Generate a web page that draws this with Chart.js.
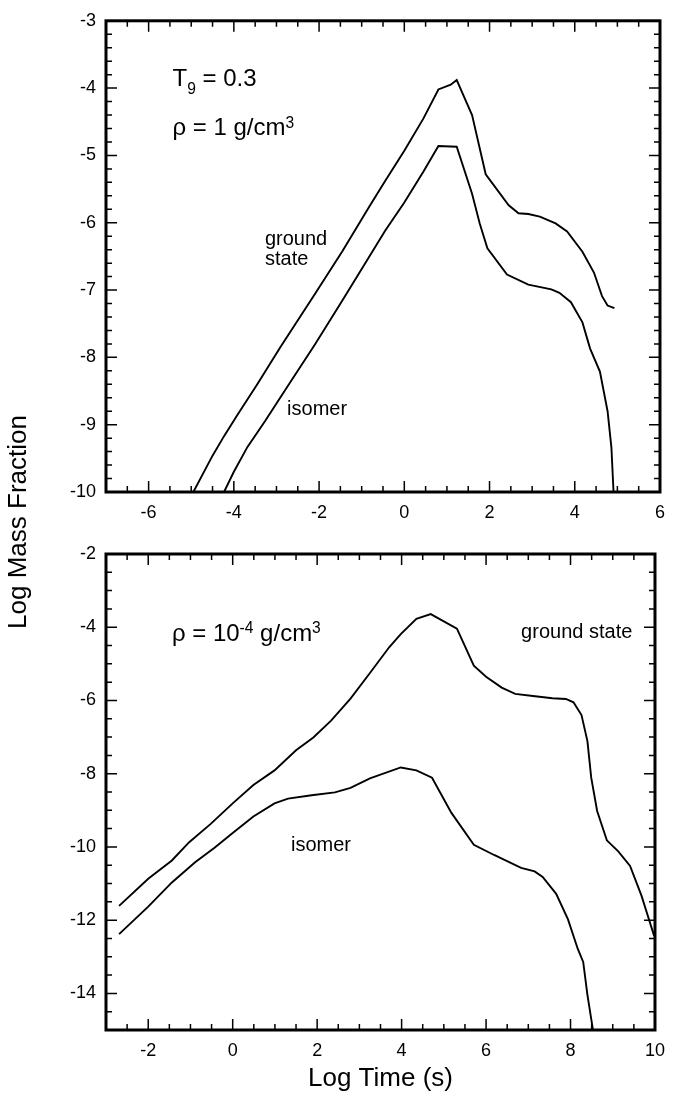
<!DOCTYPE html>
<html>
<head>
<meta charset="utf-8">
<script src="https://cdn.jsdelivr.net/npm/chart.js@4.4.0/dist/chart.umd.min.js"></script>
<style>
  body { margin: 0; background: #fff; }
  #page { position: relative; width: 675px; height: 1095px; }
  canvas { position: absolute; left: 0; }
  #ylabel {
    position: absolute; left: -133px; top: 506px; width: 300px; text-align: center;
    font: 26px 'Liberation Sans', Arial, Helvetica, sans-serif; line-height: 32px;
    transform: rotate(-90deg); color: #000;
  }
</style>
</head>
<body>
<div id="page">
  <canvas id="topChart" width="675" height="530" style="top:0"></canvas>
  <canvas id="bottomChart" width="675" height="565" style="top:530px"></canvas>
  <div id="ylabel">Log Mass Fraction</div>
</div>
<script>
const FONT = "'Liberation Sans', Arial, Helvetica, sans-serif";

// top panel: T9 = 0.3, rho = 1 g/cm3
const topGroundX = [-4.95, -4.5, -4.23, -3.91, -3.45, -2.91, -2.09, -1.45, -0.82, -0.45, 0, 0.45, 0.8, 1.09, 1.23, 1.59, 1.91, 2.45, 2.68, 2.91, 3.18, 3.55, 3.82, 4.18, 4.45, 4.64, 4.77, 4.93];
const topGroundY = [-10, -9.46, -9.17, -8.85, -8.40, -7.85, -7.05, -6.42, -5.76, -5.38, -4.93, -4.45, -4.02, -3.95, -3.88, -4.40, -5.28, -5.74, -5.86, -5.87, -5.91, -6.01, -6.13, -6.43, -6.74, -7.09, -7.23, -7.27];
const topIsomerX = [-4.23, -4.0, -3.68, -3.27, -2.73, -2.09, -1.45, -0.82, -0.45, 0, 0.45, 0.8, 1.23, 1.59, 1.77, 1.95, 2.41, 2.91, 3.45, 3.64, 3.91, 4.18, 4.36, 4.59, 4.77, 4.86, 4.91];
const topIsomerY = [-10, -9.70, -9.33, -8.95, -8.42, -7.80, -7.15, -6.50, -6.12, -5.70, -5.24, -4.86, -4.87, -5.57, -6.01, -6.38, -6.77, -6.92, -6.99, -7.04, -7.18, -7.48, -7.87, -8.21, -8.80, -9.34, -10];

// bottom panel: rho = 1e-4 g/cm3
const botGroundX = [-2.69, -2.0, -1.44, -1.03, -0.52, 0, 0.49, 0.99, 1.5, 1.91, 2.33, 2.79, 3.25, 3.71, 3.98, 4.35, 4.69, 5.31, 5.71, 6.0, 6.37, 6.69, 7.11, 7.57, 7.89, 8.07, 8.26, 8.40, 8.49, 8.63, 8.86, 9.13, 9.41, 9.68, 9.98];
const botGroundY = [-11.61, -10.87, -10.37, -9.87, -9.37, -8.81, -8.31, -7.91, -7.36, -7.01, -6.55, -5.95, -5.25, -4.54, -4.19, -3.77, -3.64, -4.04, -5.05, -5.35, -5.65, -5.82, -5.88, -5.94, -5.96, -6.05, -6.40, -7.11, -8.11, -9.02, -9.82, -10.12, -10.52, -11.33, -12.43];
const botIsomerX = [-2.69, -2.0, -1.44, -0.89, -0.43, 0, 0.49, 0.99, 1.31, 1.87, 2.42, 2.79, 3.25, 3.98, 4.35, 4.72, 5.18, 5.71, 6.19, 6.83, 7.15, 7.34, 7.66, 7.94, 8.17, 8.30, 8.40, 8.53];
const botIsomerY = [-12.38, -11.63, -10.97, -10.42, -10.02, -9.62, -9.17, -8.81, -8.68, -8.59, -8.51, -8.39, -8.13, -7.83, -7.91, -8.11, -9.07, -9.94, -10.22, -10.57, -10.67, -10.82, -11.28, -11.98, -12.78, -13.14, -14.04, -14.99];

// axes
const topXTicks = [-6, -4, -2, 0, 2, 4, 6];
const topYTicks = [-3, -4, -5, -6, -7, -8, -9, -10];
const botXTicks = [-2, 0, 2, 4, 6, 8, 10];
const botYTicks = [-2, -4, -6, -8, -10, -12, -14];

// text labels inside the panels [x, y, size, runs]
const topNotes = [
  [-5.44, -3.87, 24, [{t: 'T'}, {t: '9', sub: true}, {t: ' = 0.3'}]],
  [-5.44, -4.60, 24, [{t: 'ρ = 1 g/cm'}, {t: '3', sup: true}]],
  [-3.27, -6.25, 20, [{t: 'ground'}]],
  [-3.27, -6.55, 20, [{t: 'state'}]],
  [-2.75, -8.78, 20, [{t: 'isomer'}]]
];
const botNotes = [
  [-1.44, -4.19, 24, [{t: 'ρ = 10'}, {t: '-4', sup: true}, {t: ' g/cm'}, {t: '3', sup: true}]],
  [6.83, -4.14, 20, [{t: 'ground state'}]],
  [1.38, -9.97, 20, [{t: 'isomer'}]]
];

function pairs(xs, ys) {
  return xs.map((x, i) => ({x: x, y: ys[i]}));
}

function line(xs, ys) {
  return {
    data: pairs(xs, ys),
    showLine: true,
    borderColor: '#000',
    borderWidth: 1.9,
    pointRadius: 0,
    tension: 0
  };
}

// frame and inward tick marks on all four sides
const frameTicks = {
  id: 'frameTicks',
  afterDatasetsDraw(chart, args, opts) {
    const {ctx, chartArea: a, scales: {x, y}} = chart;
    ctx.save();
    ctx.strokeStyle = '#000';
    ctx.lineWidth = 1.5;
    const walk = (scale, minor, major, fn) => {
      const n = Math.round((scale.max - scale.min) / minor);
      for (let i = 1; i < n; i++) {
        const v = scale.min + i * minor;
        const r = v / major;
        const big = Math.abs(r - Math.round(r)) < 1e-6;
        fn(scale.getPixelForValue(v), big ? 11 : 6);
      }
    };
    ctx.beginPath();
    walk(x, opts.xMinor, opts.xMajor, (p, len) => {
      ctx.moveTo(p, a.bottom); ctx.lineTo(p, a.bottom - len);
      ctx.moveTo(p, a.top); ctx.lineTo(p, a.top + len);
    });
    walk(y, opts.yMinor, opts.yMajor, (p, len) => {
      ctx.moveTo(a.left, p); ctx.lineTo(a.left + len, p);
      ctx.moveTo(a.right, p); ctx.lineTo(a.right - len, p);
    });
    ctx.stroke();
    ctx.lineWidth = 3;
    ctx.strokeRect(a.left, a.top, a.right - a.left, a.bottom - a.top);

    // annotations
    ctx.fillStyle = '#000';
    ctx.textBaseline = 'middle';
    ctx.textAlign = 'left';
    (opts.notes || []).forEach(([nx, ny, size, runs]) => {
      let cx = x.getPixelForValue(nx);
      const cy = y.getPixelForValue(ny);
      runs.forEach(r => {
        const fs = (r.sub || r.sup) ? size * 0.65 : size;
        const dy = r.sub ? size * 0.42 : (r.sup ? -size * 0.22 : 0);
        ctx.font = fs + 'px ' + FONT;
        ctx.fillText(r.t, cx, cy + dy);
        cx += ctx.measureText(r.t).width;
      });
    });
    ctx.restore();
  }
};

function makeChart(id, cfg) {
  const setTicks = list => scale => { scale.ticks = list.map(v => ({value: v})); };
  return new Chart(document.getElementById(id), {
    type: 'scatter',
    data: {datasets: [line(cfg.gx, cfg.gy), line(cfg.ix, cfg.iy)]},
    options: {
      responsive: false,
      animation: false,
      devicePixelRatio: 1,
      layout: {padding: {left: 0, right: 12, top: cfg.padTop, bottom: 0}},
      plugins: {
        legend: {display: false},
        tooltip: {enabled: false},
        frameTicks: cfg.ticks
      },
      scales: {
        x: {
          type: 'linear', min: cfg.xMin, max: cfg.xMax,
          grid: {display: false, drawTicks: false},
          border: {display: false},
          afterBuildTicks: setTicks(cfg.xTicks),
          afterFit: s => { s.height = cfg.xHeight; },
          ticks: {
            autoSkip: false, maxRotation: 0, padding: 10, color: '#000',
            font: {family: FONT, size: 18},
            callback: v => String(v)
          },
          title: {
            display: !!cfg.xTitle, text: cfg.xTitle, color: '#000',
            font: {family: FONT, size: 26}, padding: {top: 0, bottom: 1}
          }
        },
        y: {
          type: 'linear', min: cfg.yMin, max: cfg.yMax,
          grid: {display: false, drawTicks: false},
          border: {display: false},
          afterBuildTicks: setTicks(cfg.yTicks),
          afterFit: s => { s.width = 106; },
          ticks: {
            autoSkip: false, padding: 10, color: '#000',
            font: {family: FONT, size: 18},
            callback: v => String(v)
          }
        }
      }
    },
    plugins: [frameTicks]
  });
}

makeChart('topChart', {
  gx: topGroundX, gy: topGroundY, ix: topIsomerX, iy: topIsomerY,
  xMin: -7, xMax: 6, yMin: -10, yMax: -3,
  xTicks: topXTicks, yTicks: topYTicks,
  padTop: 15, xHeight: 38,
  ticks: {xMinor: 0.5, xMajor: 2, yMinor: 0.2, yMajor: 1, notes: topNotes}
});

makeChart('bottomChart', {
  gx: botGroundX, gy: botGroundY, ix: botIsomerX, iy: botIsomerY,
  xMin: -3, xMax: 10, yMin: -15, yMax: -2,
  xTicks: botXTicks, yTicks: botYTicks,
  padTop: 24, xHeight: 65, xTitle: 'Log Time (s)',
  ticks: {xMinor: 0.5, xMajor: 2, yMinor: 0.5, yMajor: 2, notes: botNotes}
});
</script>
</body>
</html>
